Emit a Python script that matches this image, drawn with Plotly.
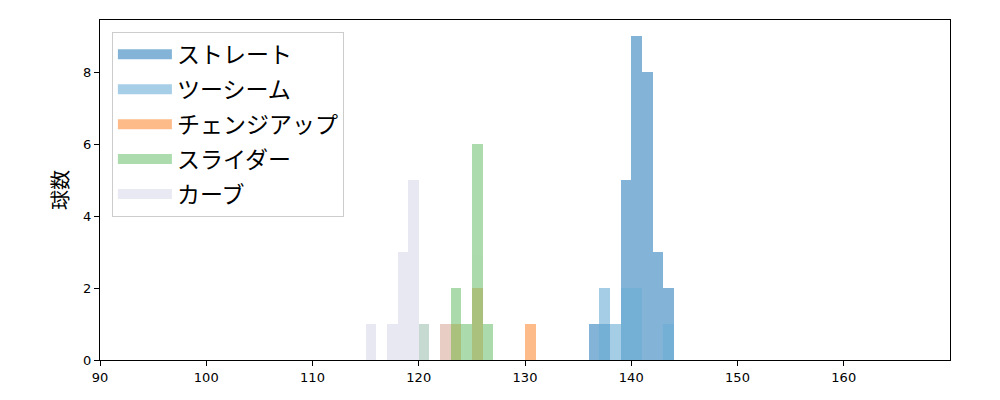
import plotly.graph_objects as go

# bin left edges (km/h, 1 km/h wide) and counts per pitch type
straight_bins = [136, 137, 139, 140, 141, 142, 143]
straight_counts = [1, 1, 5, 9, 8, 3, 2]

twoseam_bins = [137, 138, 139, 140, 143]
twoseam_counts = [2, 1, 2, 2, 1]

changeup_bins = [122, 123, 125, 130]
changeup_counts = [1, 1, 2, 1]

slider_bins = [120, 123, 124, 125, 126]
slider_counts = [1, 2, 1, 6, 1]

curve_bins = [115, 117, 118, 119, 120, 122]
curve_counts = [1, 1, 3, 5, 1, 1]

series = [
    ("ストレート", straight_bins, straight_counts, "#3182bd"),
    ("ツーシーム", twoseam_bins, twoseam_counts, "#6baed6"),
    ("チェンジアップ", changeup_bins, changeup_counts, "#fd8d3c"),
    ("スライダー", slider_bins, slider_counts, "#74c476"),
    ("カーブ", curve_bins, curve_counts, "#dadaeb"),
]

fig = go.Figure()
for name, bins, counts, color in series:
    fig.add_trace(go.Bar(
        x=bins, y=counts, name=name, legendgroup=name, showlegend=False,
        width=1, offset=0,
        marker=dict(color=color, line=dict(width=0)),
        opacity=0.6,
    ))
    # wide swatch for the legend, like matplotlib's patch handles
    fig.add_trace(go.Scatter(
        x=[None], y=[None], name=name, legendgroup=name,
        mode="lines", line=dict(color=color, width=16), opacity=0.6,
    ))

axis_style = dict(
    showline=True, linecolor="black", linewidth=1.3, mirror=True,
    ticks="outside", ticklen=5, tickwidth=1.2, tickcolor="black",
    showgrid=False, zeroline=False,
    tickfont=dict(size=13, color="black"),
)

fig.update_layout(
    width=1000, height=400,
    barmode="overlay", bargap=0,
    plot_bgcolor="white", paper_bgcolor="white",
    margin=dict(l=92, r=58, t=12, b=48),
    font=dict(family="DejaVu Sans, Noto Sans CJK JP", color="black"),
    xaxis=dict(range=[90, 170], tickvals=[90, 100, 110, 120, 130, 140, 150, 160], **axis_style),
    yaxis=dict(range=[0, 9.45], tickvals=[0, 2, 4, 6, 8],
               title=dict(text="球数", font=dict(size=20, family="Noto Sans CJK JP"), standoff=8),
               **axis_style),
    legend=dict(
        x=0.014, y=0.965, xanchor="left", yanchor="top",
        bgcolor="white", bordercolor="#cccccc", borderwidth=1,
        font=dict(size=23, family="Noto Sans CJK JP"),
        tracegroupgap=2, itemwidth=54,
    ),
    showlegend=True,
)

fig.write_html("out.html")
